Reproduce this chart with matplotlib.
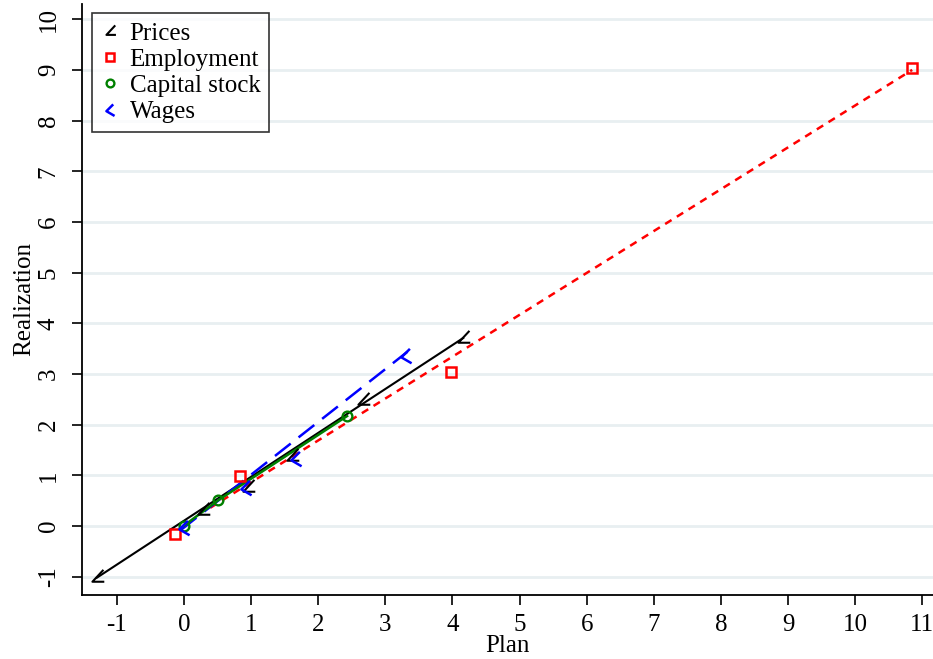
import numpy as np
import matplotlib.pyplot as plt
from matplotlib.path import Path

# data
prices_x = [-1.30, 0.28, 0.95, 1.61, 2.67, 4.16]
prices_y = [-1.00, 0.32, 0.77, 1.38, 2.49, 3.71]
prices_line_x = [-1.30, 4.16]
prices_line_y = [-1.02, 3.71]

emp_x = [-0.13, 0.83, 3.98, 10.85]
emp_y = [-0.16, 0.99, 3.03, 9.03]
emp_line_x = [0.39, 10.85]
emp_line_y = [0.36, 9.00]

cap_x = [0.00, 0.51, 2.43]
cap_y = [0.01, 0.51, 2.17]

wage_x = [0.00, 0.93, 1.67, 3.31]
wage_y = [-0.04, 0.76, 1.32, 3.36]
wage_line_x = [-0.05, 3.33]
wage_line_y = [-0.08, 3.44]

xticks = list(range(-1, 12))
yticks = list(range(-1, 11))

plt.rcParams['font.family'] = ['Liberation Serif', 'DejaVu Serif']
plt.rcParams['axes.unicode_minus'] = False

angle_marker = Path([(0.7, 0.9), (-0.6, -0.5), (0.8, -0.5)],
                    [Path.MOVETO, Path.LINETO, Path.LINETO])
chev_marker = Path([(0.4, 0.9), (-0.6, -0.1), (0.6, -0.8)],
                   [Path.MOVETO, Path.LINETO, Path.LINETO])

fig = plt.figure(figsize=(9.33, 6.59), dpi=100)
ax = fig.add_axes([82 / 933, 64 / 659, 1 - 82 / 933, 591 / 659])

for yv in yticks:
    ax.axhline(yv, color='#e8eff1', lw=2, zorder=0)

ax.plot(prices_line_x, prices_line_y, color='black', lw=1.5, zorder=3)
ax.plot(emp_line_x, emp_line_y, color='red', lw=1.8, ls=(0, (3, 2.5)), zorder=3)
ax.plot(cap_x, cap_y, color='green', lw=1.8, zorder=4)
ax.plot(wage_line_x, wage_line_y, color='blue', lw=1.8, ls=(0, (8, 4)), zorder=3)

ax.plot(prices_x, prices_y, ls='none', marker=angle_marker, ms=11, mfc='none',
        mec='black', mew=1.5, label='Prices', zorder=5)
ax.plot(emp_x, emp_y, ls='none', marker='s', ms=7, mfc='none',
        mec='red', mew=1.8, label='Employment', zorder=5)
ax.plot(cap_x, cap_y, ls='none', marker='o', ms=7, mfc='none',
        mec='green', mew=1.7, label='Capital stock', zorder=5)
ax.plot(wage_x, wage_y, ls='none', marker=chev_marker, ms=11, mfc='none',
        mec='blue', mew=1.8, label='Wages', zorder=5)

ax.set_xlim(-1.52, 11.16)
ax.set_ylim(-1.36, 10.3)
ax.set_xticks(xticks)
ax.set_yticks(yticks)
ax.tick_params(direction='out', length=7, width=1.2, labelsize=18)
ax.tick_params(axis='x', pad=7)
ax.tick_params(axis='y', pad=9)
for lab in ax.get_yticklabels():
    lab.set_rotation(90)
    lab.set_va('center')
ax.spines['top'].set_visible(False)
ax.spines['right'].set_visible(False)
ax.spines['left'].set_linewidth(1.3)
ax.spines['bottom'].set_linewidth(1.3)

ax.set_xlabel('Plan', fontsize=18, labelpad=-1)
ax.set_ylabel('Realization', fontsize=18, labelpad=2)

leg = ax.legend(loc='upper left', bbox_to_anchor=(0.012, 0.984), fontsize=18,
                frameon=True, fancybox=False, handlelength=0.7,
                handletextpad=0.45, borderpad=0.35, labelspacing=0.15,
                borderaxespad=0, markerscale=0.8)
leg.get_frame().set_edgecolor('black')
leg.get_frame().set_linewidth(1.2)

fig.savefig('out.png', dpi=100)
